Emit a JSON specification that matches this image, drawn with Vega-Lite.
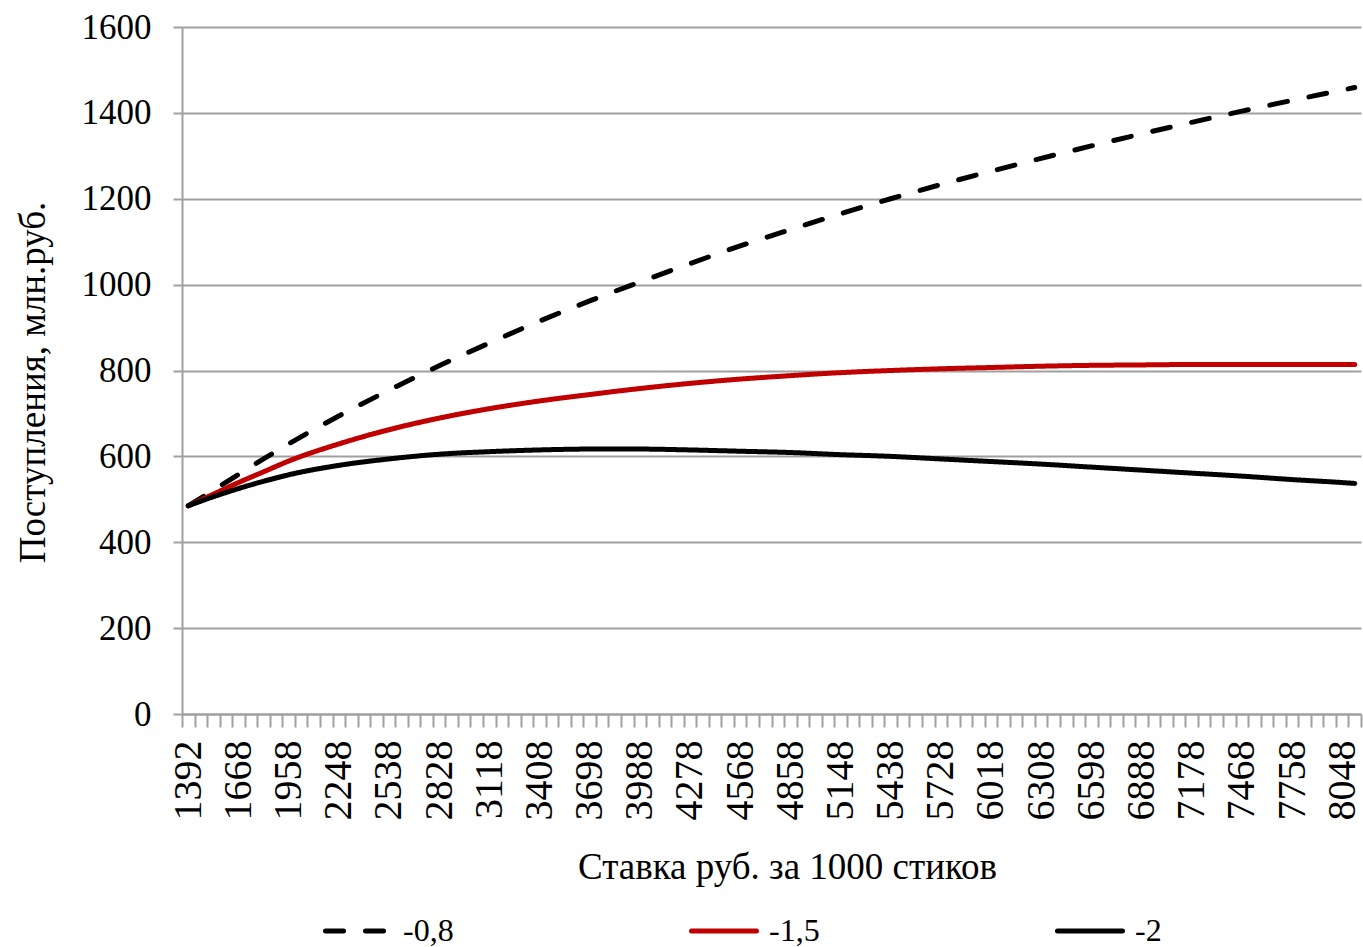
{
  "$schema": "https://vega.github.io/schema/vega-lite/v6.json",
  "width": 1179,
  "height": 687,
  "autosize": {"type": "none"},
  "padding": {"left": 182, "top": 27, "right": 2, "bottom": 233},
  "background": "white",
  "config": {
    "view": {"stroke": null},
    "font": "Liberation Serif"
  },
  "data": {
    "values": [
      {"cat": 0, "rate": "1392", "series": "-0,8", "value": 485},
      {"cat": 2, "rate": "1523", "series": "-0,8", "value": 521},
      {"cat": 4, "rate": "1668", "series": "-0,8", "value": 558},
      {"cat": 6, "rate": "1813", "series": "-0,8", "value": 594},
      {"cat": 8, "rate": "1958", "series": "-0,8", "value": 629},
      {"cat": 12, "rate": "2248", "series": "-0,8", "value": 694},
      {"cat": 16, "rate": "2538", "series": "-0,8", "value": 754},
      {"cat": 20, "rate": "2828", "series": "-0,8", "value": 811},
      {"cat": 24, "rate": "3118", "series": "-0,8", "value": 864},
      {"cat": 28, "rate": "3408", "series": "-0,8", "value": 915},
      {"cat": 32, "rate": "3698", "series": "-0,8", "value": 962},
      {"cat": 36, "rate": "3988", "series": "-0,8", "value": 1006},
      {"cat": 40, "rate": "4278", "series": "-0,8", "value": 1049},
      {"cat": 44, "rate": "4568", "series": "-0,8", "value": 1090},
      {"cat": 48, "rate": "4858", "series": "-0,8", "value": 1128},
      {"cat": 52, "rate": "5148", "series": "-0,8", "value": 1165},
      {"cat": 56, "rate": "5438", "series": "-0,8", "value": 1200},
      {"cat": 60, "rate": "5728", "series": "-0,8", "value": 1233},
      {"cat": 64, "rate": "6018", "series": "-0,8", "value": 1264},
      {"cat": 68, "rate": "6308", "series": "-0,8", "value": 1294},
      {"cat": 72, "rate": "6598", "series": "-0,8", "value": 1323},
      {"cat": 76, "rate": "6888", "series": "-0,8", "value": 1351},
      {"cat": 80, "rate": "7178", "series": "-0,8", "value": 1378},
      {"cat": 84, "rate": "7468", "series": "-0,8", "value": 1404},
      {"cat": 88, "rate": "7758", "series": "-0,8", "value": 1429},
      {"cat": 92, "rate": "8048", "series": "-0,8", "value": 1453},
      {"cat": 93, "rate": "8121", "series": "-0,8", "value": 1459},
      {"cat": 0, "rate": "1392", "series": "-1,5", "value": 485},
      {"cat": 2, "rate": "1523", "series": "-1,5", "value": 512},
      {"cat": 4, "rate": "1668", "series": "-1,5", "value": 539},
      {"cat": 6, "rate": "1813", "series": "-1,5", "value": 564},
      {"cat": 8, "rate": "1958", "series": "-1,5", "value": 589},
      {"cat": 12, "rate": "2248", "series": "-1,5", "value": 629},
      {"cat": 16, "rate": "2538", "series": "-1,5", "value": 662},
      {"cat": 20, "rate": "2828", "series": "-1,5", "value": 689},
      {"cat": 24, "rate": "3118", "series": "-1,5", "value": 711},
      {"cat": 28, "rate": "3408", "series": "-1,5", "value": 729},
      {"cat": 32, "rate": "3698", "series": "-1,5", "value": 744},
      {"cat": 36, "rate": "3988", "series": "-1,5", "value": 758},
      {"cat": 40, "rate": "4278", "series": "-1,5", "value": 770},
      {"cat": 44, "rate": "4568", "series": "-1,5", "value": 780},
      {"cat": 48, "rate": "4858", "series": "-1,5", "value": 788},
      {"cat": 52, "rate": "5148", "series": "-1,5", "value": 795},
      {"cat": 56, "rate": "5438", "series": "-1,5", "value": 800},
      {"cat": 60, "rate": "5728", "series": "-1,5", "value": 804},
      {"cat": 64, "rate": "6018", "series": "-1,5", "value": 807},
      {"cat": 68, "rate": "6308", "series": "-1,5", "value": 810},
      {"cat": 72, "rate": "6598", "series": "-1,5", "value": 812},
      {"cat": 76, "rate": "6888", "series": "-1,5", "value": 813},
      {"cat": 80, "rate": "7178", "series": "-1,5", "value": 814},
      {"cat": 84, "rate": "7468", "series": "-1,5", "value": 814},
      {"cat": 88, "rate": "7758", "series": "-1,5", "value": 814},
      {"cat": 92, "rate": "8048", "series": "-1,5", "value": 814},
      {"cat": 93, "rate": "8121", "series": "-1,5", "value": 814},
      {"cat": 0, "rate": "1392", "series": "-2", "value": 485},
      {"cat": 2, "rate": "1523", "series": "-2", "value": 506},
      {"cat": 4, "rate": "1668", "series": "-2", "value": 525},
      {"cat": 6, "rate": "1813", "series": "-2", "value": 542},
      {"cat": 8, "rate": "1958", "series": "-2", "value": 557},
      {"cat": 12, "rate": "2248", "series": "-2", "value": 579},
      {"cat": 16, "rate": "2538", "series": "-2", "value": 594},
      {"cat": 20, "rate": "2828", "series": "-2", "value": 605},
      {"cat": 24, "rate": "3118", "series": "-2", "value": 611},
      {"cat": 28, "rate": "3408", "series": "-2", "value": 615},
      {"cat": 32, "rate": "3698", "series": "-2", "value": 617},
      {"cat": 36, "rate": "3988", "series": "-2", "value": 617},
      {"cat": 40, "rate": "4278", "series": "-2", "value": 615},
      {"cat": 44, "rate": "4568", "series": "-2", "value": 612},
      {"cat": 48, "rate": "4858", "series": "-2", "value": 609},
      {"cat": 52, "rate": "5148", "series": "-2", "value": 604},
      {"cat": 56, "rate": "5438", "series": "-2", "value": 600},
      {"cat": 60, "rate": "5728", "series": "-2", "value": 594},
      {"cat": 64, "rate": "6018", "series": "-2", "value": 588},
      {"cat": 68, "rate": "6308", "series": "-2", "value": 582},
      {"cat": 72, "rate": "6598", "series": "-2", "value": 575},
      {"cat": 76, "rate": "6888", "series": "-2", "value": 568},
      {"cat": 80, "rate": "7178", "series": "-2", "value": 561},
      {"cat": 84, "rate": "7468", "series": "-2", "value": 554},
      {"cat": 88, "rate": "7758", "series": "-2", "value": 546},
      {"cat": 92, "rate": "8048", "series": "-2", "value": 539},
      {"cat": 93, "rate": "8121", "series": "-2", "value": 537}
    ]
  },
  "resolve": {"axis": {"x": "independent", "y": "independent"}},
  "layer": [
    {
      "mark": {"type": "line", "strokeWidth": 5, "strokeCap": "round", "strokeJoin": "round", "interpolate": "monotone"},
      "encoding": {
        "x": {
          "field": "cat",
          "type": "quantitative",
          "scale": {"domain": [-0.5, 93.5], "nice": false, "zero": false},
          "axis": {
            "orient": "bottom",
            "values": [-0.5, 0.5, 1.5, 2.5, 3.5, 4.5, 5.5, 6.5, 7.5, 8.5, 9.5, 10.5, 11.5, 12.5, 13.5, 14.5, 15.5, 16.5, 17.5, 18.5, 19.5, 20.5, 21.5, 22.5, 23.5, 24.5, 25.5, 26.5, 27.5, 28.5, 29.5, 30.5, 31.5, 32.5, 33.5, 34.5, 35.5, 36.5, 37.5, 38.5, 39.5, 40.5, 41.5, 42.5, 43.5, 44.5, 45.5, 46.5, 47.5, 48.5, 49.5, 50.5, 51.5, 52.5, 53.5, 54.5, 55.5, 56.5, 57.5, 58.5, 59.5, 60.5, 61.5, 62.5, 63.5, 64.5, 65.5, 66.5, 67.5, 68.5, 69.5, 70.5, 71.5, 72.5, 73.5, 74.5, 75.5, 76.5, 77.5, 78.5, 79.5, 80.5, 81.5, 82.5, 83.5, 84.5, 85.5, 86.5, 87.5, 88.5, 89.5, 90.5, 91.5, 92.5, 93.5],
            "labels": false,
            "ticks": true,
            "tickSize": 13,
            "tickColor": "#A0A0A0",
            "tickWidth": 2,
            "domain": true,
            "domainColor": "#A0A0A0",
            "domainWidth": 2,
            "grid": false,
            "title": null
          }
        },
        "y": {
          "field": "value",
          "type": "quantitative",
          "scale": {"domain": [0, 1600], "nice": false},
          "axis": {
            "values": [0, 200, 400, 600, 800, 1000, 1200, 1400, 1600],
            "format": "d",
            "grid": true,
            "gridColor": "#A0A0A0",
            "gridWidth": 2,
            "domain": true,
            "domainColor": "#A0A0A0",
            "domainWidth": 2,
            "ticks": true,
            "tickSize": 9,
            "tickColor": "#A0A0A0",
            "tickWidth": 2,
            "labelFont": "Liberation Serif",
            "labelFontSize": 35,
            "labelColor": "black",
            "labelPadding": 22,
            "labelBound": false,
            "labelFlush": false,
            "title": "Поступления, млн.руб.",
            "titleFont": "Liberation Serif",
            "titleFontSize": 37,
            "titleFontWeight": "normal",
            "titleColor": "black",
            "titleAngle": -90,
            "titleAlign": "center",
            "titleBaseline": "alphabetic",
            "titleX": -138,
            "titleY": 355
          }
        },
        "color": {
          "field": "series",
          "type": "nominal",
          "scale": {"domain": ["-0,8", "-1,5", "-2"], "range": ["#000000", "#C00000", "#000000"]},
          "legend": {
            "orient": "none",
            "legendX": 141,
            "legendY": 869,
            "direction": "horizontal",
            "columns": 3,
            "gridAlign": "all",
            "columnPadding": 227,
            "symbolType": "stroke",
            "symbolSize": 4225,
            "symbolStrokeWidth": 5,
            "labelFont": "Liberation Serif",
            "labelFontSize": 32,
            "labelColor": "black",
            "labelOffset": 10,
            "title": null,
            "encode": {"symbols": {"update": {"strokeCap": {"value": "round"}}}}
          }
        },
        "strokeDash": {
          "field": "series",
          "type": "nominal",
          "scale": {"domain": ["-0,8", "-1,5", "-2"], "range": [[18, 22], [1, 0], [1, 0]]},
          "legend": {
            "orient": "none",
            "legendX": 141,
            "legendY": 869,
            "direction": "horizontal",
            "columns": 3,
            "gridAlign": "all",
            "columnPadding": 227,
            "symbolType": "stroke",
            "symbolSize": 4225,
            "symbolStrokeWidth": 5,
            "labelFont": "Liberation Serif",
            "labelFontSize": 32,
            "labelColor": "black",
            "labelOffset": 10,
            "title": null,
            "encode": {"symbols": {"update": {"strokeCap": {"value": "round"}}}}
          }
        }
      }
    },
    {
      "mark": {"type": "point", "opacity": 0},
      "encoding": {
        "x": {
          "field": "cat",
          "type": "quantitative",
          "scale": {"domain": [-0.5, 93.5], "nice": false, "zero": false},
          "axis": {
            "orient": "bottom",
            "values": [0, 4, 8, 12, 16, 20, 24, 28, 32, 36, 40, 44, 48, 52, 56, 60, 64, 68, 72, 76, 80, 84, 88, 92],
            "labelExpr": "['1392','1668','1958','2248','2538','2828','3118','3408','3698','3988','4278','4568','4858','5148','5438','5728','6018','6308','6598','6888','7178','7468','7758','8048'][round(datum.value/4)]",
            "labelAngle": -90,
            "labelAlign": "right",
            "labelBaseline": "middle",
            "labelFont": "Liberation Serif",
            "labelFontSize": 40,
            "labelColor": "black",
            "labelPadding": 26,
            "labelOverlap": false,
            "labelBound": false,
            "labelFlush": false,
            "ticks": false,
            "domain": false,
            "grid": false,
            "title": "Ставка руб. за 1000 стиков",
            "titleFont": "Liberation Serif",
            "titleFontSize": 37,
            "titleFontWeight": "normal",
            "titleColor": "black",
            "titleAlign": "center",
            "titleBaseline": "alphabetic",
            "titleX": 605,
            "titleY": 164
          }
        },
        "y": {
          "field": "value",
          "type": "quantitative",
          "scale": {"domain": [0, 1600], "nice": false},
          "axis": null
        }
      }
    }
  ]
}
